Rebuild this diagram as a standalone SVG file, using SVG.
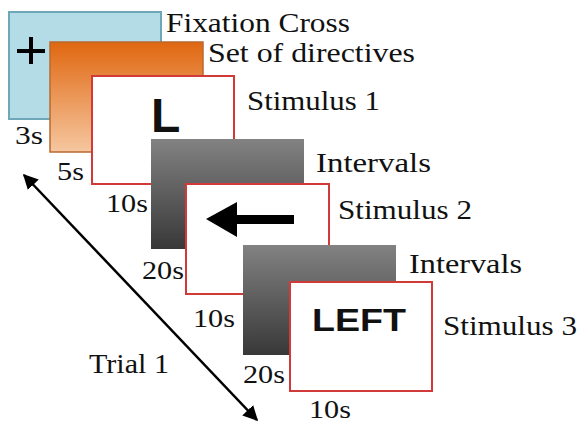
<svg xmlns="http://www.w3.org/2000/svg" width="579" height="424" viewBox="0 0 579 424" font-family="Liberation Serif, Times New Roman, serif">
<defs>
<linearGradient id="gOrange" x1="0" y1="0" x2="0" y2="1">
<stop offset="0" stop-color="#e06710"/>
<stop offset="1" stop-color="#f6c7a0"/>
</linearGradient>
<linearGradient id="gGray" x1="0" y1="0" x2="0" y2="1">
<stop offset="0" stop-color="#828282"/>
<stop offset="1" stop-color="#383838"/>
</linearGradient>
<marker id="ah" viewBox="0 0 10 10" refX="9" refY="5" markerWidth="6" markerHeight="6" orient="auto-start-reverse" markerUnits="strokeWidth">
<path d="M0,0 L10,5 L0,10 z" fill="#000"/>
</marker>
<style>
.lbl{font-size:28px;fill:#111}
.sec{font-size:25px;fill:#111}
.stim{fill:#fff;stroke:#d23a3a;stroke-width:2}
.gray{fill:url(#gGray);stroke:none}
.bold{font-weight:bold;fill:#111}
</style>
</defs>
<g id="fixation">
<rect x="9" y="12" width="152" height="107" fill="#b4dce6" stroke="#6ea8b8" stroke-width="2"/>
<path d="M17,51 H45 M31,37 V64" stroke="#000" stroke-width="4" fill="none"/>
<text class="lbl" x="166" y="32" textLength="184" lengthAdjust="spacingAndGlyphs">Fixation Cross</text>
<text class="sec" x="15" y="144" textLength="28" lengthAdjust="spacingAndGlyphs">3s</text>
</g>
<g id="directives">
<rect x="50" y="42" width="153" height="110" fill="url(#gOrange)" stroke="#b86a30" stroke-width="1.5"/>
<text class="lbl" x="208" y="62" textLength="207" lengthAdjust="spacingAndGlyphs">Set of directives</text>
<text class="sec" x="57" y="180" textLength="27" lengthAdjust="spacingAndGlyphs">5s</text>
</g>
<g id="stimulus1">
<rect class="stim" x="92" y="76" width="142" height="108"/>
<text class="bold" x="151" y="132" font-size="48" font-family="Liberation Sans, Arial, sans-serif">L</text>
<text class="lbl" x="247" y="110" textLength="133" lengthAdjust="spacingAndGlyphs">Stimulus 1</text>
<text class="sec" x="106" y="212" textLength="42" lengthAdjust="spacingAndGlyphs">10s</text>
</g>
<g id="intervals1">
<rect class="gray" x="151" y="139" width="153" height="110"/>
<text class="lbl" x="316" y="172" textLength="115" lengthAdjust="spacingAndGlyphs">Intervals</text>
<text class="sec" x="142" y="279" textLength="42" lengthAdjust="spacingAndGlyphs">20s</text>
</g>
<g id="stimulus2">
<rect class="stim" x="186" y="184" width="143" height="110"/>
<path d="M206,219 L237,202 L237,215 L294,215 L294,224 L237,224 L237,237 Z" fill="#000"/>
<text class="lbl" x="338" y="219" textLength="134" lengthAdjust="spacingAndGlyphs">Stimulus 2</text>
<text class="sec" x="193" y="327" textLength="42" lengthAdjust="spacingAndGlyphs">10s</text>
</g>
<g id="intervals2">
<rect class="gray" x="243" y="245" width="153" height="110"/>
<text class="lbl" x="409" y="273" textLength="113" lengthAdjust="spacingAndGlyphs">Intervals</text>
<text class="sec" x="243" y="383" textLength="42" lengthAdjust="spacingAndGlyphs">20s</text>
</g>
<g id="stimulus3">
<rect class="stim" x="290" y="282" width="142" height="109"/>
<text class="bold" x="312" y="331" font-size="32" font-family="Liberation Sans, Arial, sans-serif" textLength="94" lengthAdjust="spacingAndGlyphs">LEFT</text>
<text class="lbl" x="443" y="335" textLength="134" lengthAdjust="spacingAndGlyphs">Stimulus 3</text>
<text class="sec" x="309" y="418" textLength="42" lengthAdjust="spacingAndGlyphs">10s</text>
</g>
<g id="connectors">
<line x1="24" y1="175" x2="257" y2="420" stroke="#000" stroke-width="2.5" marker-start="url(#ah)" marker-end="url(#ah)"/>
</g>
<g id="trial">
<text class="lbl" x="89" y="373" textLength="80" lengthAdjust="spacingAndGlyphs">Trial 1</text>
</g>
</svg>
